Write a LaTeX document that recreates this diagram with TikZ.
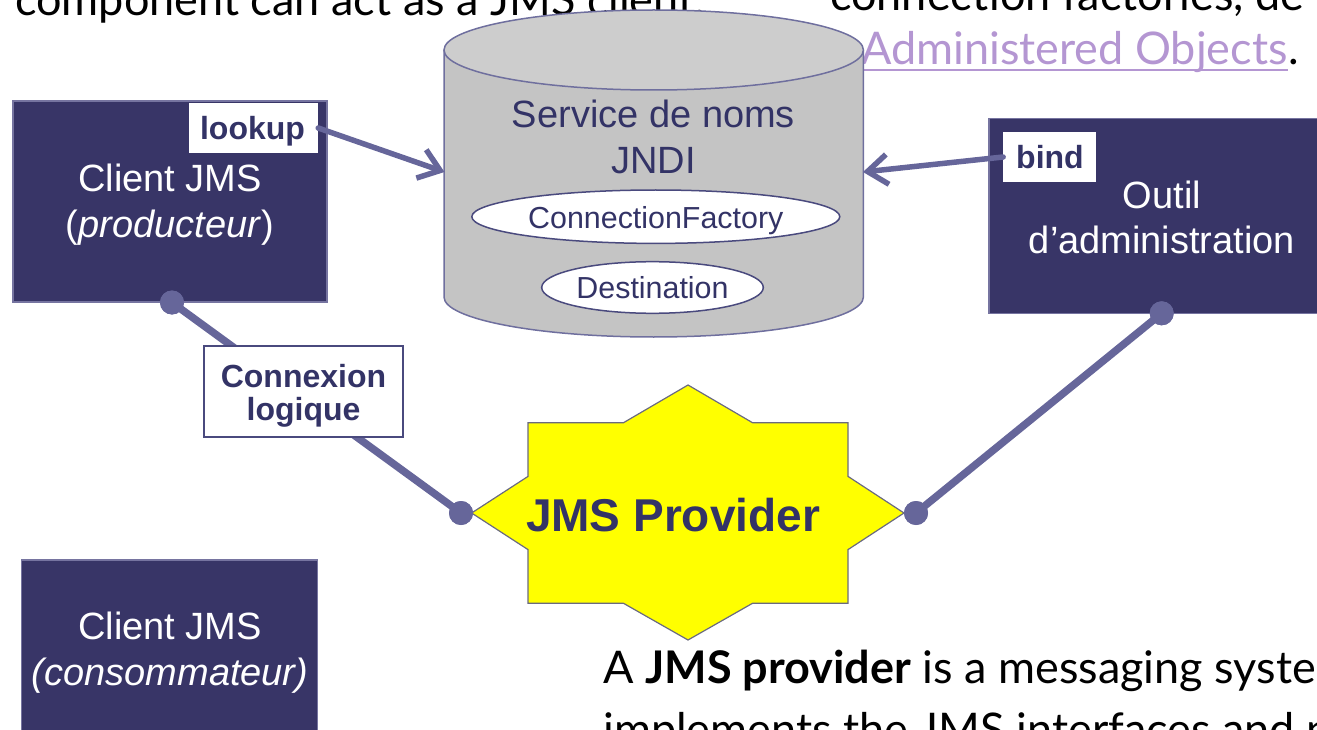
\documentclass[tikz,border=0pt]{standalone}
\usepackage{fontspec}
\setmainfont{Liberation Sans}
\newfontfamily\slidefont{Lato}
\usetikzlibrary{arrows.meta,shapes.geometric}

\definecolor{boxnavy}{HTML}{383567}
\definecolor{boxedge}{HTML}{7674A0}
\definecolor{linkslate}{HTML}{66669A}
\definecolor{inkblue}{HTML}{333366}
\definecolor{inkedge}{HTML}{4A4A7E}
\definecolor{drumgray}{HTML}{C4C4C4}
\definecolor{drumtop}{HTML}{CDCDCD}
\definecolor{drumedge}{HTML}{6F6F9E}
\definecolor{starfill}{HTML}{FFFF00}
\definecolor{staredge}{HTML}{6A6A80}
\definecolor{linkviolet}{HTML}{B496D2}

\newcommand\boxtext{\fontsize{38}{46}\selectfont}
\newcommand\tagtext{\fontsize{32}{33}\selectfont\bfseries}
\newcommand\ovaltext{\fontsize{30.4}{34}\selectfont}
\newcommand\provtext{\fontsize{46}{50}\selectfont\bfseries}
\newcommand\slidetext{\slidefont\fontsize{45}{57}\selectfont}

\begin{document}
\begin{tikzpicture}[x=1pt, y=-1pt,
  navybox/.style={draw=boxedge, line width=1.2pt, fill=boxnavy, inner sep=0pt},
  boxlabel/.style={anchor=base, inner sep=0pt, align=center, text=white, font=\boxtext},
  tagbox/.style={fill=white, inner sep=0pt},
  taglabel/.style={anchor=base, inner sep=0pt, align=center, text=inkblue, font=\tagtext},
  oval/.style={ellipse, draw=inkedge, line width=1.5pt, fill=white, inner sep=0pt},
  ovallabel/.style={anchor=base, inner sep=0pt, text=inkblue, font=\ovaltext},
  jdot/.style={circle, fill=linkslate, inner sep=0pt, minimum size=24pt},
  wire/.style={draw=linkslate, line width=7.5pt},
  arr/.style={draw=linkslate, line width=5.5pt, line cap=round,
    -{Straight Barb[length=20pt,width=30pt]}},
  slide/.style={anchor=base west, inner sep=0pt, font=\slidetext}]

\useasboundingbox (0,0) rectangle (1317,730);
\clip (0,0) rectangle (1317,730);

% slide text around the figure
\node[slide] (lefttxt) at (15,16) {component can act as a JMS client.};
\node[slide] (righttxt) at (830,11) {connection factories, de};
\node[slide, text=linkviolet] (adm) at (861,65) {Administered Objects};
\node[slide] (admdot) at (adm.base east) {.};
\draw[linkviolet, line width=2.5pt] ([yshift=-5pt]adm.base west) -- ([yshift=-5pt]adm.base east);
\node[slide] (bottom1) at (603,683) {A \textbf{JMS provider} is a messaging syste};
\node[slide] (bottom2) at (603,745) {implements the JMS interfaces and pr};

% client and admin boxes (multi-line labels sit on their last baseline)
\node[navybox, minimum width=314pt, minimum height=201pt] (prod) at (170,201.5) {};
\node[navybox, minimum width=346pt, minimum height=195pt] (admin) at (1162,215.8) {};
\node[navybox, minimum width=295.6pt, minimum height=200pt] (cons) at (169.5,660) {};
\node[boxlabel] (prodtxt) at (170,237) {Client JMS\\(\textit{producteur})};
\node[boxlabel] (admintxt) at (1162,254) {Outil\\d’administration};
\node[boxlabel] (constxt) at (170,685) {Client JMS\\\textit{(consommateur)}};

% JNDI naming service drum
\fill[drumgray] (444,50) -- (444,297)
  arc[start angle=180, end angle=360, x radius=209.7pt, y radius=40pt]
  -- (863.4,50) -- cycle;
\draw[drumedge, line width=1.5pt] (444,50) -- (444,297)
  arc[start angle=180, end angle=360, x radius=209.7pt, y radius=40pt]
  -- (863.4,50);
\filldraw[fill=drumtop, draw=drumedge, line width=1.5pt]
  (653.7,50) ellipse[x radius=209.7pt, y radius=40pt];
\node[anchor=base, inner sep=0pt, align=center, text=inkblue, font=\boxtext]
  (jndi) at (653.5,173.3) {Service de noms\\JNDI};
\node[oval, minimum width=368pt, minimum height=53.4pt] (cf) at (655.8,216.7) {};
\node[ovallabel] (cftxt) at (655.8,228.3) {ConnectionFactory};
\node[oval, minimum width=221.6pt, minimum height=51.6pt] (dest) at (652.5,287.5) {};
\node[ovallabel] (desttxt) at (652.5,298.3) {Destination};
\coordinate (cylL) at (444.5,172);
\coordinate (cylR) at (863,172);

% JMS provider star
\begin{scope}[shift={(688,513)}]
\filldraw[fill=starfill, draw=staredge, line width=1.2pt]
  (-160,-90.3) -- (-64.5,-90.3) -- (0,-128) -- (64.5,-90.3) -- (160,-90.3)
  -- (160,-36.6) -- (216,0) -- (160,36.6) -- (160,90.3) -- (64.5,90.3)
  -- (0,127) -- (-64.5,90.3) -- (-160,90.3) -- (-160,36.6) -- (-216.4,0)
  -- (-160,-36.6) -- cycle;
\end{scope}
\node[anchor=base, inner sep=0pt, text=inkblue, font=\provtext] (prov) at (673,531) {JMS Provider};

% logical connections
\node[jdot] (pd) at (172,302.5) {};
\node[jdot] (ad) at (1161.7,313.3) {};
\node[jdot] (pl) at (461,513) {};
\node[jdot] (pr) at (916,513) {};
\draw[wire] (pd.center) -- (pl.center);
\draw[wire] (ad.center) -- (pr.center);
\node[jdot] at (pd) {};
\node[jdot] at (ad) {};
\node[jdot] at (pl) {};
\node[jdot] at (pr) {};

\node[tagbox, draw=inkedge, line width=2pt, minimum width=199pt, minimum height=91pt]
  (cnx) at (303.5,391.5) {};
\node[taglabel] (cnxtxt) at (303.5,420) {Connexion\\logique};

% lookup / bind
\node[tagbox, minimum width=129pt, minimum height=50pt] (lookup) at (253.5,128) {};
\node[taglabel] (lookuptxt) at (252.5,140) {lookup};
\node[tagbox, minimum width=92.7pt, minimum height=49.4pt] (bind) at (1049.7,157) {};
\node[taglabel] (bindtxt) at (1050,168.5) {bind};
\draw[arr] (lookup.east) -- (cylL);
\draw[arr] (bind.west) -- (cylR);
\end{tikzpicture}
\end{document}
